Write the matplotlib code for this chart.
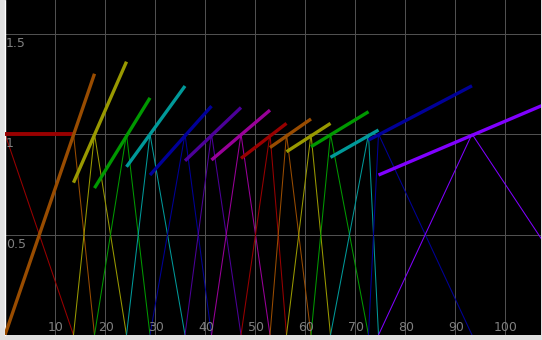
import matplotlib
matplotlib.use("Agg")
import matplotlib.pyplot as plt
from matplotlib.transforms import blended_transform_factory, offset_copy

# Peak positions of the triangular membership functions (x where y == 1)
peaks = [0.0, 13.7, 17.9, 24.3, 29.0, 36.0, 41.3, 47.2, 53.0, 56.3, 61.2, 65.1, 72.7, 74.7, 93.4]
last_right_foot = 120.0
# Thick line value at the left and right end of each support
thick_left_y = [1.0, 0.0, 0.758, 0.731, 0.837, 0.796, 0.867, 0.871, 0.879, 0.933, 0.912, 0.937, 0.884, 0.970, 0.796]
thick_right_y = [1.0, 1.30, 1.36, 1.18, 1.239, 1.139, 1.132, 1.119, 1.053, 1.075, 1.053, 1.111, 1.020, 1.240, 1.275]
colors = ["#990000", "#994c00", "#999900", "#009900", "#009999", "#000099", "#4c0099", "#990099",
          "#990000", "#994c00", "#999900", "#009900", "#009999", "#000099", "#8000ff"]

xticks = [10, 20, 30, 40, 50, 60, 70, 80, 90, 100]
xtick_labels = ["10", "20", "30", "40", "50", "60", "70", "80", "90", "100"]
yticks = [0.5, 1.0, 1.5]
ytick_labels = ["0.5", "1", "1.5"]

W, H = 542, 340
fig = plt.figure(figsize=(W / 100, H / 100), dpi=100)
fig.patch.set_facecolor("#e0e0e0")
ax = fig.add_axes([5 / W, 5 / H, 536 / W, 335 / H])
ax.set_facecolor("black")
ax.set_xlim(0, 107.2)
ax.set_ylim(0, 1.667)

for x in xticks:
    ax.axvline(x, color="#505050", lw=0.72, zorder=1, antialiased=False)
for y in yticks:
    ax.axhline(y, color="#505050", lw=0.72, zorder=1, antialiased=False)

n = len(peaks)
for i in range(n):
    left = peaks[i - 1] if i > 0 else peaks[0]
    right = peaks[i + 1] if i < n - 1 else last_right_foot
    c = colors[i]
    if i == 0:
        ax.plot([peaks[i], right], [1, 0], color=c, lw=0.75, zorder=2)
    else:
        ax.plot([left, peaks[i], right], [0, 1, 0], color=c, lw=0.75, zorder=2)
    ax.plot([left, right], [thick_left_y[i], thick_right_y[i]], color=c,
            lw=(2.8 if i == 0 else 2.4), solid_capstyle="butt", zorder=3)

for s in ["top", "right", "bottom"]:
    ax.spines[s].set_visible(False)
ax.spines["left"].set_color("white")
ax.spines["left"].set_linestyle((0, (1, 1)))
ax.spines["left"].set_linewidth(1.0)
ax.set_xticks([])
ax.set_yticks([])

tx = blended_transform_factory(ax.transData, ax.transAxes)
for x, lab in zip(xticks, xtick_labels):
    ax.text(x, 0.0, lab, transform=offset_copy(tx, fig=fig, x=1, y=1, units="dots"),
            ha="center", va="bottom", color="#808080", fontsize=9, zorder=5)
ty = blended_transform_factory(ax.transAxes, ax.transData)
for y, lab in zip(yticks, ytick_labels):
    ax.text(0.0, y, lab, transform=offset_copy(ty, fig=fig, x=1, y=-3, units="dots"),
            ha="left", va="top", color="#808080", fontsize=9, zorder=5)

fig.savefig("out.png", dpi=100, facecolor=fig.get_facecolor())
